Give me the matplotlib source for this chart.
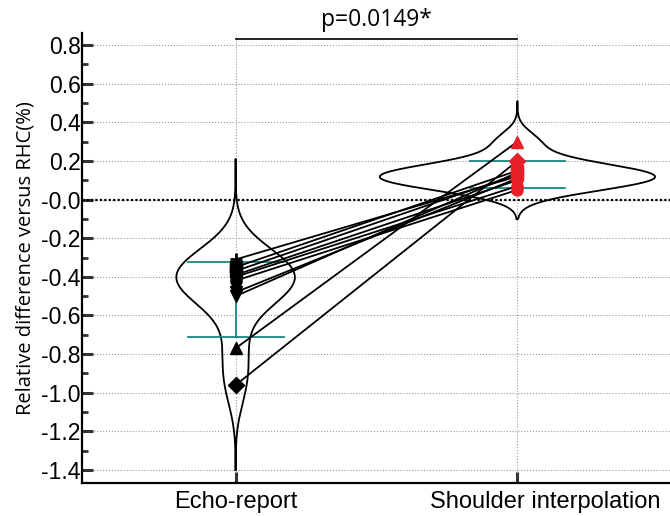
import numpy as np
import matplotlib.pyplot as plt
import matplotlib.transforms as mtransforms

groups = ["Echo-report", "Shoulder interpolation"]
markers = ["+", "s", "s", "o", "o", "v", "v", "^", "D", "o"]
echo = [-0.31, -0.35, -0.37, -0.39, -0.42, -0.48, -0.50, -0.77, -0.96, -0.40]
shoulder = [0.12, 0.15, 0.13, 0.10, 0.05, 0.11, 0.14, 0.30, 0.20, 0.07]

# mean +/- SD bars
err_lo = [-0.71, 0.06]
err_hi = [-0.325, 0.20]
# vertical extent of the violins
violin_lo = [-1.40, -0.10]
violin_hi = [0.21, 0.51]
bw_factor = [1.0, 1.25]

p_text = "p=0.0149*"


def kde(values, grid, factor=1.0):
    v = np.asarray(values)
    h = v.std(ddof=1) * len(v) ** (-0.2) * factor
    z = (grid[:, None] - v[None, :]) / h
    return np.exp(-0.5 * z ** 2).sum(axis=1) / (len(v) * h * np.sqrt(2 * np.pi))


fig = plt.figure(figsize=(6.7, 5.16), dpi=100)
ax = fig.add_axes([0.1224, 0.064, 0.877, 0.872])

width_scale = 0.095
for i, data in enumerate([echo, shoulder]):
    pos = i + 1
    yy = np.linspace(violin_lo[i], violin_hi[i], 400)
    d = kde(data, yy, bw_factor[i]) * width_scale
    ax.plot(np.r_[pos - d, (pos + d)[::-1], pos - d[0]], np.r_[yy, yy[::-1], yy[0]],
            color="black", lw=1.3, zorder=2)

# error bars
for i in range(2):
    pos = i + 1
    ax.plot([pos, pos], [err_lo[i], err_hi[i]], color="#1a8686", lw=1.3, zorder=3)
    ax.plot([pos - 0.17, pos + 0.17], [err_lo[i], err_lo[i]], color="#1a8686", lw=1.3, zorder=3)
    ax.plot([pos - 0.17, pos + 0.17], [err_hi[i], err_hi[i]], color="#1a8686", lw=1.3, zorder=3)

# paired lines and points
for m, a, b in zip(markers, echo, shoulder):
    ax.plot([1, 2], [a, b], color="black", lw=1.3, zorder=4)
    ax.plot(1, a, marker=m, color="black", ms=8, mew=2 if m == "+" else 1, zorder=5)
    ax.plot(2, b, marker=m, color="#e8202a", ms=8, mew=2 if m == "+" else 1, zorder=5)

ax.axhline(0, color="black", ls=(0, (1, 1)), lw=1.6, zorder=3)

ax.set_xlim(0.455, 2.54)
ax.set_ylim(-1.467, 0.862)
ax.set_yticks(np.arange(-1.4, 0.81, 0.2))
ax.set_yticks(np.arange(-1.3, 0.81, 0.2), minor=True)
ax.set_yticklabels([f"{t:.1f}" for t in np.arange(-1.4, 0.81, 0.2)])
ax.set_xticks([1, 2])
ax.set_xticklabels(groups)
ax.grid(True, ls=":", color="#999999", lw=0.8, zorder=1)

for side in ["top", "right"]:
    ax.spines[side].set_visible(False)
for side in ["left", "bottom"]:
    ax.spines[side].set_linewidth(1.6)

ax.tick_params(axis="both", which="major", direction="in", length=8, width=2.2,
               color="#333333")
ax.tick_params(axis="y", labelsize=16.5, pad=1)
ax.tick_params(axis="x", labelsize=17, pad=6)
ax.tick_params(axis="y", which="minor", direction="in", length=4, width=2, color="#333333")
for lab in ax.get_xticklabels() + ax.get_yticklabels():
    lab.set_fontfamily("Liberation Sans")

# the right-hand label sits a little right of its tick in the original
shift = mtransforms.ScaledTranslation(0.28, 0, fig.dpi_scale_trans)
lab = ax.get_xticklabels()[1]
lab.set_transform(lab.get_transform() + shift)

ax.set_ylabel("Relative difference versus RHC(%)", fontsize=14.5, family="Open Sans", labelpad=4)

# significance bracket
ax.plot([1, 2], [0.83, 0.83], color="black", lw=1.2, clip_on=False)
ax.text(1.5, 0.865, p_text, ha="center", va="bottom", fontsize=16.5, family="Open Sans")

fig.savefig("out.png", dpi=100)
